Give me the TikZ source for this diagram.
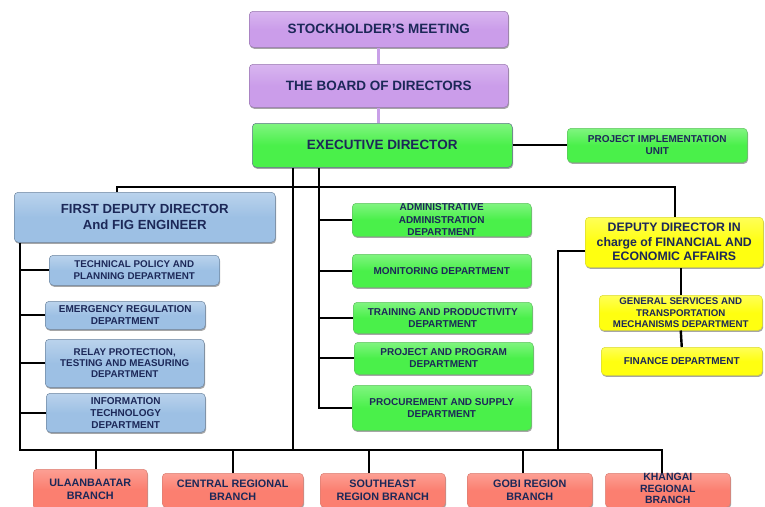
\documentclass[tikz,border=0pt]{standalone}
\usepackage{fontspec}
\setmainfont{Liberation Sans}
\usetikzlibrary{shadows}
\definecolor{txt}{HTML}{1C2858}
\definecolor{lav}{HTML}{CB9DEA}
\definecolor{grn}{HTML}{4AF04A}
\definecolor{blu}{HTML}{9DC0E4}
\definecolor{yel}{HTML}{FFFF10}
\definecolor{sal}{HTML}{FB7F70}
\definecolor{lavline}{HTML}{C9A0E8}
\tikzset{
  box/.style={rounded corners=4pt, anchor=north west, inner sep=0pt, align=center,
    text=txt, line width=0.5pt,
    drop shadow={shadow xshift=0.8pt, shadow yshift=-1.5pt, opacity=0.35, fill=black}},
  wh/.style 2 args={minimum width=#1, minimum height=#2},
  purplebox/.style={box, draw=lav!75!black, top color=lav!75!white, bottom color=lav, middle color=lav},
  greenbox/.style={box, draw=grn!60!gray, top color=grn!70!white, bottom color=grn, middle color=grn},
  execbox/.style={box, draw=blu!60!black, top color=grn!70!white, bottom color=grn, middle color=grn},
  bluebox/.style={box, draw=blu!70!black, top color=blu!70!white, bottom color=blu, middle color=blu},
  yellowbox/.style={box, draw=yel!70!gray, top color=yel!70!white, bottom color=yel, middle color=yel},
  salmonbox/.style={box, draw=sal!75!gray, top color=sal!75!white, bottom color=sal, middle color=sal},
  fbig/.style={font=\bfseries\fontsize{13.5}{16}\selectfont},
  fbr/.style={font=\bfseries\fontsize{10.8}{13}\selectfont},
  fsm/.style={font=\bfseries\fontsize{10}{12}\selectfont},
  conn/.style={draw=black, line width=2.4pt},
  pconn/.style={draw=lavline, line width=3pt},
}
\begin{document}
\begin{tikzpicture}[x=1pt, y=-1pt]
\useasboundingbox (0,0) rectangle (765,506);
\clip (0,0) rectangle (765,506);

% junction points of the connector lines
\coordinate (topL) at (117,187);
\coordinate (topR) at (675,187);
\coordinate (lx) at (20,450);
\coordinate (cx) at (293,450);
\coordinate (sx) at (319,0);
\coordinate (kx) at (662,450);
\coordinate (ydl) at (558,251);

% --- top of the hierarchy
\node[purplebox, wh={259pt}{36pt}, fbig] (sm) at (249,11) {STOCKHOLDER{\char"27}S MEETING};
\node[purplebox, wh={259pt}{43pt}, fbig] (bod) at (249,64) {THE BOARD OF DIRECTORS};
\node[execbox, wh={260pt}{44pt}, fbig] (exec) at (252,123) {EXECUTIVE DIRECTOR};
\node[greenbox, wh={180pt}{34pt}, fsm] (piu) at (567,128) {PROJECT IMPLEMENTATION\\UNIT};

\draw[pconn] (sm.south) -- (bod.north);
\draw[pconn] (bod.south) -- (bod.south |- exec.north);
\draw[conn] (exec.east) -- (piu.west);

% --- first deputy director and departments
\node[bluebox, wh={261pt}{50pt}, font=\bfseries\fontsize{13.2}{16}\selectfont] (fd) at (14,192) {FIRST DEPUTY DIRECTOR\\And FIG ENGINEER};
\node[bluebox, wh={170pt}{30pt}, fsm, font=\bfseries\fontsize{9.8}{12.5}\selectfont] (tp) at (49,255) {TECHNICAL POLICY AND\\PLANNING DEPARTMENT};
\node[bluebox, wh={160pt}{28pt}, fsm] (er) at (45,301) {EMERGENCY REGULATION\\DEPARTMENT};
\node[bluebox, wh={159pt}{48pt}, fsm, font=\bfseries\fontsize{9.8}{11}\selectfont] (rp) at (45,339) {RELAY PROTECTION,\\TESTING AND MEASURING\\DEPARTMENT};
\node[bluebox, wh={159pt}{39pt}, fsm] (it) at (46,393) {INFORMATION\\TECHNOLOGY\\DEPARTMENT};

% --- departments under the executive director
\node[greenbox, wh={179pt}{33pt}, fsm, font=\bfseries\fontsize{10}{12.4}\selectfont] (ad) at (352,203) {ADMINISTRATIVE\\ADMINISTRATION\\DEPARTMENT};
\node[greenbox, wh={179pt}{33pt}, fsm] (mo) at (352,254) {MONITORING DEPARTMENT};
\node[greenbox, wh={179pt}{31pt}, fsm] (tr) at (353,302) {TRAINING AND PRODUCTIVITY\\DEPARTMENT};
\node[greenbox, wh={179pt}{32pt}, fsm] (pp) at (354,342) {PROJECT AND PROGRAM\\DEPARTMENT};
\node[greenbox, wh={179pt}{45pt}, fsm] (pr) at (352,385) {PROCUREMENT AND SUPPLY\\DEPARTMENT};

% --- deputy director for finance
\node[yellowbox, wh={178pt}{50pt}, font=\bfseries\fontsize{12.3}{14.5}\selectfont] (yd) at (585,217) {DEPUTY DIRECTOR IN\\charge of FINANCIAL AND\\ECONOMIC AFFAIRS};
\node[yellowbox, wh={163pt}{35pt}, fsm, font=\bfseries\fontsize{9.7}{11.8}\selectfont] (gs) at (599,295) {GENERAL SERVICES AND\\TRANSPORTATION\\MECHANISMS DEPARTMENT};
\node[yellowbox, wh={161pt}{28pt}, fsm] (fin) at (601,347) {FINANCE DEPARTMENT};

% --- regional branches
\node[salmonbox, wh={114pt}{40pt}, fbr] (ub) at (33,469) {ULAANBAATAR\\BRANCH};
\node[salmonbox, wh={141pt}{34pt}, fbr] (cb) at (162,473) {CENTRAL REGIONAL\\BRANCH};
\node[salmonbox, wh={125pt}{34pt}, fbr] (se) at (320,473) {SOUTHEAST\\REGION BRANCH};
\node[salmonbox, wh={125pt}{34pt}, fbr] (gb) at (467,473) {GOBI REGION\\BRANCH};
\node[salmonbox, wh={125pt}{34pt}, fbr] (kh) at (605,473) {};
\node[anchor=center, inner sep=0pt, align=center, text=txt,
  font=\bfseries\fontsize{10.5}{11.6}\selectfont] (khtext) at ([yshift=1.5pt]kh.center) {KHANGAI\\REGIONAL\\BRANCH};

% --- black connector lines
\draw[conn] (fd.north -| topL) -- (topL) -- (topR) -- (yd.north -| topR);
\draw[conn] (exec.south -| cx) -- (cx);
\draw[conn] (exec.south -| sx) |- (pr.west);
\foreach \d in {ad, mo, tr, pp} \draw[conn] (sx |- \d.west) -- (\d.west);
\draw[conn] (fd.south -| lx) -- (lx) -- (kx) -- (kh.north -| kx);
\foreach \d in {tp, er, rp, it} \draw[conn] (lx |- \d.west) -- (\d.west);
\draw[conn] (yd.west |- ydl) -- (ydl) -- (ydl |- lx);
\draw[conn] (gs.north) -- (gs.north |- yd.south);
\draw[conn] (gs.south) -- (fin.north);
\draw[conn] (ub.north -| 96,0) -- (96,450);
\draw[conn] (cb.north -| 233,0) -- (233,450);
\draw[conn] (se.north -| 369,0) -- (369,450);
\draw[conn] (gb.north -| 523,0) -- (523,450);
\end{tikzpicture}
\end{document}
